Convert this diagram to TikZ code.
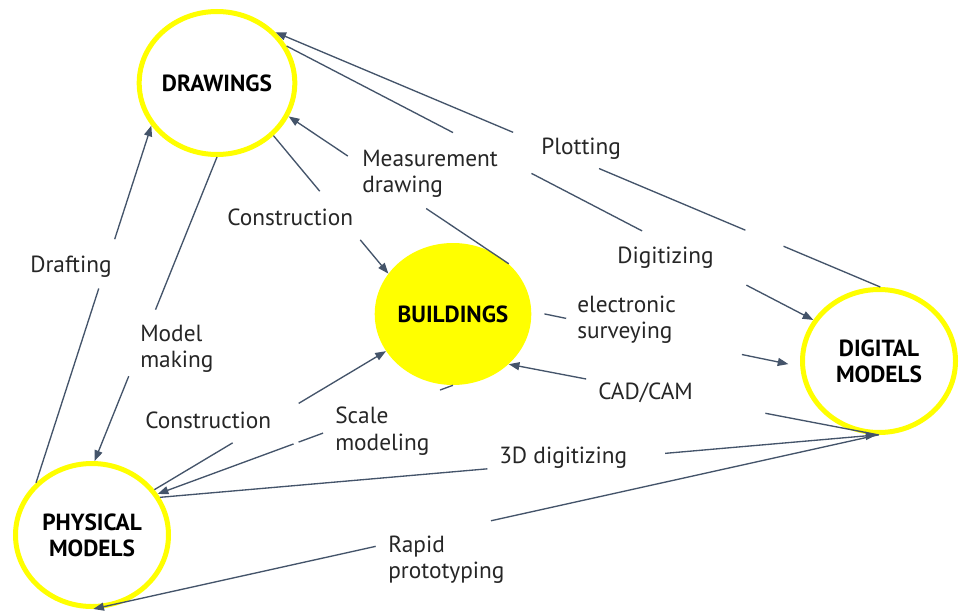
\documentclass[tikz,border=0pt]{standalone}
\usepackage{fontspec}
\setmainfont{PT Sans}
\usetikzlibrary{arrows.meta,calc,shapes.geometric}
\definecolor{conncol}{HTML}{44546A}
\definecolor{ringcol}{HTML}{FFFF00}
\definecolor{labcol}{HTML}{262626}
\newcommand\connpiece[5][]{\draw[conn,#1] ($(#2)!#4!(#3)$) -- ($(#2)!#5!(#3)$);}
\begin{document}
\begin{tikzpicture}[x=0.75pt,y=-0.75pt,
  hub/.style={ellipse, draw=ringcol, line width=3.75pt, minimum width=114.75pt,
    minimum height=107.25pt, inner sep=0pt, align=center, text=black,
    font=\fontsize{17.5}{19.5}\selectfont\bfseries},
  hubfill/.style={ellipse, fill=ringcol, minimum width=114.75pt,
    minimum height=106.5pt, inner sep=0pt, align=center, text=black,
    font=\fontsize{17.5}{19.5}\selectfont\bfseries},
  conn/.style={draw=conncol, line width=1pt},
  tip/.style={-{Triangle[length=8pt,width=6pt]}},
  lab/.style={font=\fontsize{17.5}{20}\selectfont, text=labcol, inner sep=0pt, anchor=base west}]
\useasboundingbox (0,0) rectangle (959,610);
\fill[white] (0,0) rectangle (959,610);

% hubs
\node[hub] (drw) at (217,83) {DRAWINGS};
\node[hubfill] (bld) at (453,314) {BUILDINGS};
\node[hub] (dig) at (879,361) {DIGITAL\\MODELS};
\node[hub] (phy) at (92,535) {PHYSICAL\\MODELS};

% Plotting: digital -> drawings
\connpiece{dig.89}{drw.41}{0}{0.160}
\connpiece{dig.89}{drw.41}{0.223}{0.465}
\connpiece[tip]{dig.89}{drw.41}{0.607}{1}

% Digitizing: drawings -> digital
\connpiece{drw.28.6}{dig.148.5}{0}{0.316}
\connpiece{drw.28.6}{dig.148.5}{0.465}{0.675}
\connpiece[tip]{drw.28.6}{dig.148.5}{0.873}{1}

% Measurement drawing: buildings -> drawings
\connpiece{bld.42.8}{drw.-25}{0}{0.375}
\connpiece[tip]{bld.42.8}{drw.-25}{0.731}{1}

% Construction: drawings -> buildings
\connpiece{drw.-43}{bld.148}{0}{0.403}
\connpiece[tip]{drw.-43}{bld.148}{0.756}{1}

% Model making: drawings -> physical
\connpiece{drw.270}{phy.88}{0}{0.502}
\connpiece[tip]{drw.270}{phy.88}{0.721}{1}

% Drafting: physical -> drawings
\connpiece{phy.137.7}{drw.-147}{0}{0.544}
\connpiece[tip]{phy.137.7}{drw.-147}{0.682}{1}

% Construction: physical -> buildings
\connpiece{phy.36}{bld.209}{0}{0.338}
\connpiece[tip]{phy.36}{bld.209}{0.623}{1}

% Scale modeling: buildings -> physical
\connpiece{bld.270}{phy.32}{0}{0.044}
\connpiece{bld.270}{phy.32}{0.44}{0.523}
\connpiece[tip]{bld.270}{phy.32}{0.540}{1}

% electronic surveying: buildings -> digital
\connpiece{bld.2}{dig.184.5}{0.048}{0.129}
\connpiece[tip]{bld.2}{dig.184.5}{0.783}{0.956}

% CAD/CAM: digital -> buildings
\connpiece{dig.270}{bld.-42}{0}{0.307}
\connpiece[tip]{dig.270}{bld.-42}{0.791}{1}

% 3D digitizing: physical -> digital
\connpiece{phy.29.6}{dig.268}{0}{0.457}
\connpiece[tip]{phy.29.6}{dig.268}{0.705}{1}

% Rapid prototyping: digital -> physical
\connpiece{dig.269}{phy.-89}{0}{0.493}
\connpiece[tip]{dig.269}{phy.-89}{0.640}{1}

% labels
\node[lab] (lplot) at (541,154) {Plotting};
\node[lab] (lmeasa) at (362,166) {Measurement};
\node[lab] (lmeasb) at (362,192) {drawing};
\node[lab] (lconsa) at (227,225) {Construction};
\node[lab] (ldraft) at (30,272) {Drafting};
\node[lab] (ldigit) at (617,263) {Digitizing};
\node[lab] (lsurva) at (577,312) {electronic};
\node[lab] (lsurvb) at (577,338) {surveying};
\node[lab] (lmoda) at (140,341) {Model};
\node[lab] (lmodb) at (140,367) {making};
\node[lab] (lcad) at (598,399) {CAD/CAM};
\node[lab] (lconsb) at (145,428) {Construction};
\node[lab] (lscalea) at (335,423) {Scale};
\node[lab] (lscaleb) at (335,450) {modeling};
\node[lab] (lthreed) at (499,463) {3D digitizing};
\node[lab] (lrapa) at (388,552) {Rapid};
\node[lab] (lrapb) at (388,578) {prototyping};
\end{tikzpicture}
\end{document}
